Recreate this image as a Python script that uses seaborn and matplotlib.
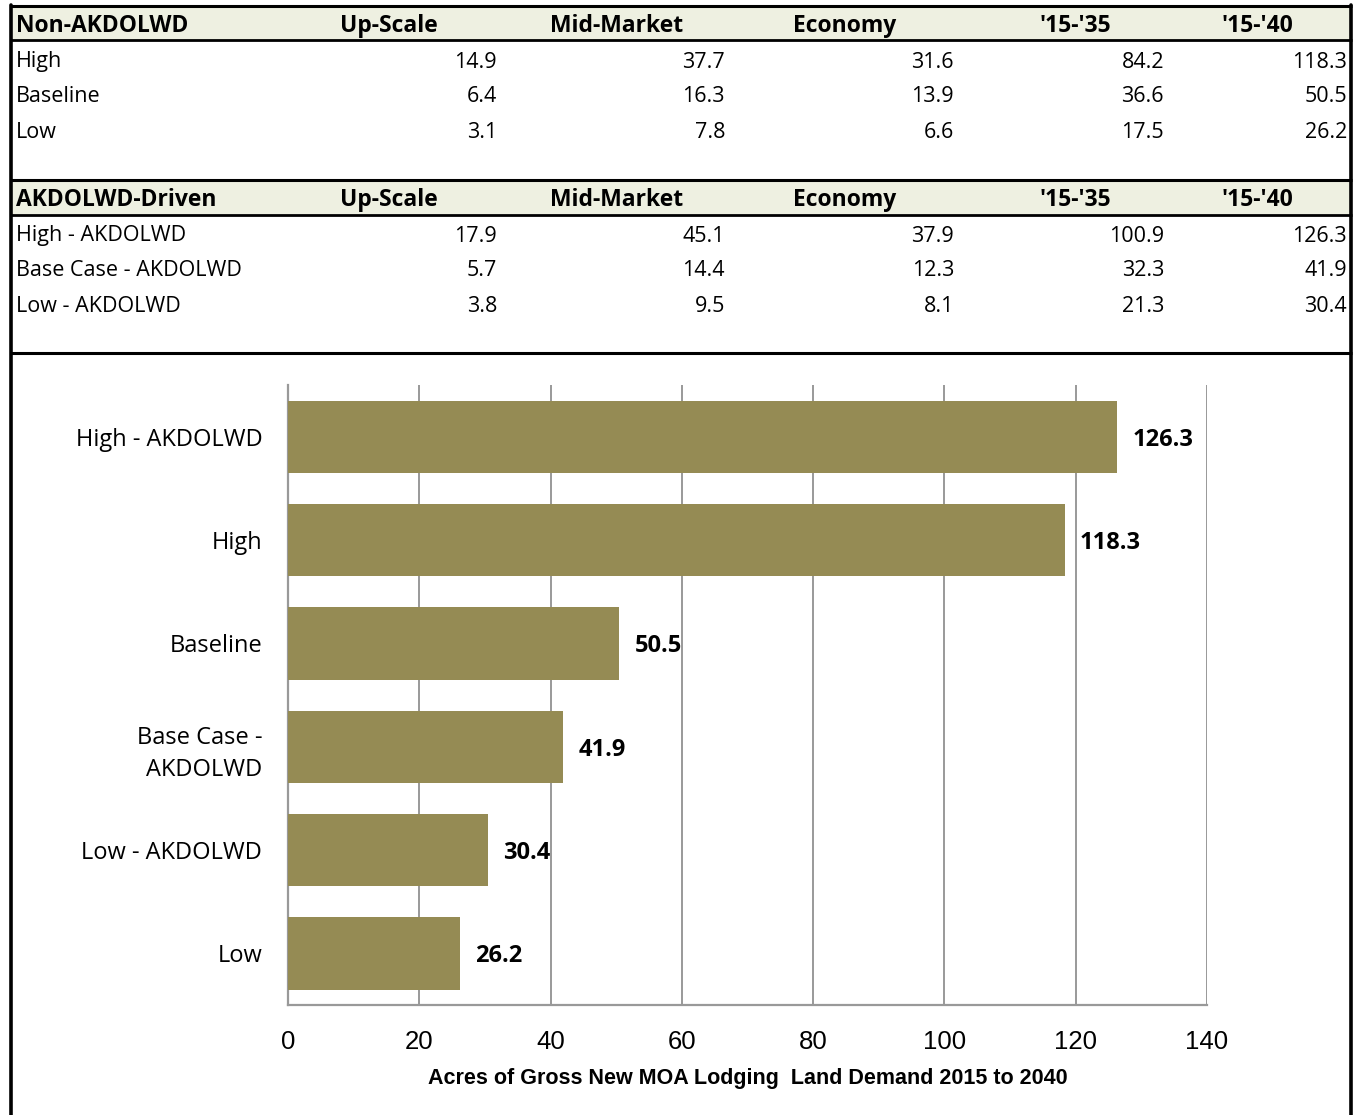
import matplotlib
matplotlib.use("Agg")
import matplotlib.pyplot as plt
import seaborn as sns
import pandas as pd
from matplotlib import font_manager as fm
from matplotlib.lines import Line2D
from matplotlib.patches import Rectangle

# ---------------- data ----------------
table_cols = ["Up-Scale", "Mid-Market", "Economy", "'15-'35", "'15-'40"]

non_title = "Non-AKDOLWD"
non_rows = ["High", "Baseline", "Low"]
non_upscale = [14.9, 6.4, 3.1]
non_mid = [37.7, 16.3, 7.8]
non_econ = [31.6, 13.9, 6.6]
non_35 = [84.2, 36.6, 17.5]
non_40 = [118.3, 50.5, 26.2]

ak_title = "AKDOLWD-Driven"
ak_rows = ["High - AKDOLWD", "Base Case - AKDOLWD", "Low - AKDOLWD"]
ak_upscale = [17.9, 5.7, 3.8]
ak_mid = [45.1, 14.4, 9.5]
ak_econ = [37.9, 12.3, 8.1]
ak_35 = [100.9, 32.3, 21.3]
ak_40 = [126.3, 41.9, 30.4]

bar_labels = ["High - AKDOLWD", "High", "Baseline", "Base Case -\nAKDOLWD", "Low - AKDOLWD", "Low"]
bar_values = [126.3, 118.3, 50.5, 41.9, 30.4, 26.2]
x_ticks = [0, 20, 40, 60, 80, 100, 120, 140]
x_title = "Acres of Gross New MOA Lodging  Land Demand 2015 to 2040"

# ---------------- style ----------------
sns.set_theme(style="white")
names = {f.name for f in fm.fontManager.ttflist}
main_font = ["Open Sans", "Noto Sans", "DejaVu Sans"]
narrow = "Liberation Sans Narrow" if "Liberation Sans Narrow" in names else "Liberation Sans"
plt.rcParams["font.family"] = main_font
plt.rcParams["text.color"] = "black"
plt.rcParams["xtick.color"] = "black"
plt.rcParams["ytick.color"] = "black"
plt.rcParams["axes.labelcolor"] = "black"

W, H = 1364, 1115
fig = plt.figure(figsize=(W / 100, H / 100), dpi=100)

# overlay axes in pixel coordinates for the table
ov = fig.add_axes([0, 0, 1, 1], zorder=0)
ov.set_xlim(0, W)
ov.set_ylim(H, 0)
ov.axis("off")

BAR = "#958B54"
HDR = "#EEF0E1"
FS = 15.5
HFS = 16.5

def hline(y, x0=10, x1=1352, lw=2.2):
    ov.add_line(Line2D([x0, x1], [y, y], color="black", lw=lw, solid_capstyle="butt"))

def section(top, title, rows, cols_data):
    ov.add_patch(Rectangle((11, top), 1341, 34, facecolor=HDR, edgecolor="none"))
    ov.text(16, top + 20, title, fontsize=HFS, fontweight="bold", va="center", ha="left")
    for cx, name in zip([340, 550, 793, 1040, 1222], table_cols):
        ov.text(cx, top + 20, name, fontsize=HFS, fontweight="bold", va="center", ha="left")
    for i, r in enumerate(rows):
        y = top + 56 + i * 35
        ov.text(16, y, r, fontsize=FS, va="center", ha="left")
        for rx, col in zip([497, 725, 954, 1164, 1347], cols_data):
            ov.text(rx, y, f"{col[i]:.1f}", fontsize=FS, va="center", ha="right")

section(6, non_title, non_rows, [non_upscale, non_mid, non_econ, non_35, non_40])
section(180, ak_title, ak_rows, [ak_upscale, ak_mid, ak_econ, ak_35, ak_40])

hline(6)
hline(40, lw=2)
hline(180)
hline(215, lw=2)
hline(353)
ov.add_line(Line2D([11, 11], [5, H], color="black", lw=2.6))
ov.add_line(Line2D([1351, 1351], [5, H], color="black", lw=2.6))

# ---------------- chart ----------------
ax = fig.add_axes([288 / W, 1 - 1005 / H, (1207 - 288) / W, (1005 - 385) / H], zorder=2)
ax.patch.set_alpha(0)
df = pd.DataFrame({"label": bar_labels, "value": bar_values})
sns.barplot(data=df, x="value", y="label", orient="h", color=BAR, saturation=1,
            width=0.7, ax=ax, zorder=3)
for p in ax.patches:
    p.set_edgecolor("none")

ax.set_xlim(0, 140)
ax.set_ylim(len(bar_labels) - 0.5, -0.5)
ax.set_xticks(x_ticks)
ax.set_xticklabels([str(t) for t in x_ticks], fontsize=18.5, family=narrow)
ax.grid(axis="x", color="#999999", lw=1.4, zorder=0)
ax.grid(axis="y", visible=False)

# y ticks at category boundaries, labels at centres
ax.set_yticks([i - 0.5 for i in range(len(bar_labels) + 1)], minor=False)
ax.set_yticklabels([""] * (len(bar_labels) + 1))
ax.set_yticks(range(len(bar_labels)), minor=True)
ax.set_yticklabels(bar_labels, minor=True, fontsize=17)
ax.tick_params(axis="y", which="minor", length=0, pad=18.5)
ax.tick_params(axis="y", which="major", length=8, width=1.4, color="#999999", direction="out")
ax.tick_params(axis="x", length=12, width=1.4, color="#999999", direction="out", pad=6)
for lab in ax.get_yticklabels(minor=True):
    lab.set_multialignment("right")
    lab.set_linespacing(1.45)

for s in ["top", "right"]:
    ax.spines[s].set_visible(False)
for s in ["left", "bottom"]:
    ax.spines[s].set_color("#999999")
    ax.spines[s].set_linewidth(1.6)

ax.set_ylabel("")
ax.set_xlabel(x_title, fontsize=15.5, fontweight="bold", family=narrow, labelpad=10)

for c in ax.containers:
    texts = ax.bar_label(c, labels=[f"{v:.1f}" for v in c.datavalues], padding=11,
                         fontsize=17, fontweight="bold")
    for t in texts:
        t.set_va("center_baseline")

fig.savefig("out.png", dpi=100)
